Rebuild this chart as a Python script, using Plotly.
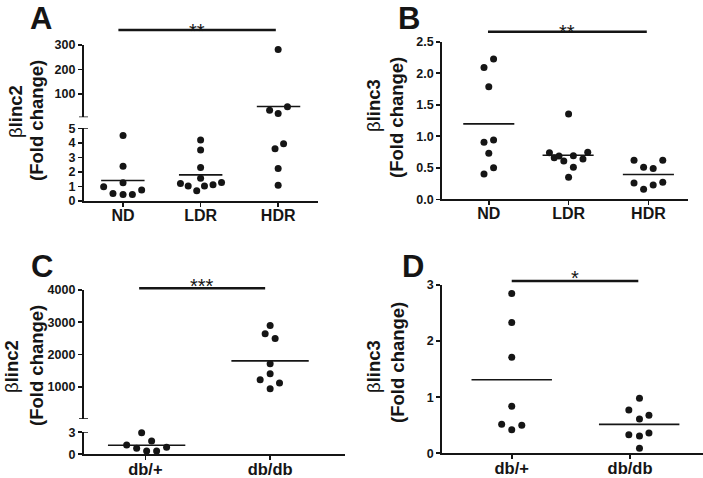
import numpy as np
import plotly.graph_objects as go

W, H = 703, 478

# ---------------- data ----------------
# Panel A: beta-linc2, islets ND / LDR / HDR (broken axis)
a_categories = ["ND", "LDR", "HDR"]
a_nd = [4.5, 2.39, 1.25, 0.98, 0.52, 0.45, 0.45, 0.75]
a_ldr = [4.2, 3.5, 2.3, 1.57, 1.21, 1.03, 0.71, 1.03, 1.12, 1.28]
a_hdr = [282, 48, 34, 20, 3.93, 3.6, 2.23, 1.09]
a_nd_jitter = [0, 0, 0, -0.25, -0.13, 0, 0.12, 0.24]
a_ldr_jitter = [0, 0, 0, 0, -0.26, -0.16, -0.05, 0.05, 0.16, 0.27]
a_hdr_jitter = [0, 0.12, -0.11, 0, 0.07, -0.04, 0, 0]
a_lower_ticks = [0, 1, 2, 3, 4, 5]
a_upper_ticks = [100, 200, 300]

# Panel B: beta-linc3
b_categories = ["ND", "LDR", "HDR"]
b_nd = [2.225, 2.09, 1.787, 0.94, 0.904, 0.73, 0.50, 0.40]
b_ldr = [1.352, 0.74, 0.66, 0.687, 0.607, 0.69, 0.64, 0.745, 0.51, 0.35]
b_hdr = [0.62, 0.507, 0.49, 0.62, 0.26, 0.16, 0.227, 0.27]
b_nd_jitter = [0.06, -0.06, 0, 0.06, -0.06, 0, 0.06, -0.06]
b_ldr_jitter = [0, -0.24, -0.18, -0.12, -0.06, 0.06, 0.18, 0.24, 0.06, 0]
b_hdr_jitter = [-0.18, -0.06, 0.06, 0.18, -0.18, -0.06, 0.06, 0.18]
b_ticks = [0, 0.5, 1.0, 1.5, 2.0, 2.5]

# Panel C: beta-linc2, db/+ vs db/db (broken axis)
c_categories = ["db/+", "db/db"]
c_het = [2.95, 1.81, 1.27, 0.82, 0.45, 0.45, 0.95]
c_dbdb = [2900, 2640, 2494, 1716, 1404, 1218, 1114, 938]
c_het_jitter = [-0.03, 0.05, -0.15, -0.07, 0.01, 0.09, 0.17]
c_dbdb_jitter = [0, -0.04, 0.04, 0, 0, -0.08, 0.075, 0]
c_lower_ticks = [0, 3]
c_upper_ticks = [1000, 2000, 3000, 4000]

# Panel D: beta-linc3, db/+ vs db/db
d_categories = ["db/+", "db/db"]
d_het = [2.85, 2.33, 1.71, 0.84, 0.52, 0.42, 0.50]
d_dbdb = [0.98, 0.77, 0.68, 0.61, 0.33, 0.31, 0.36, 0.09]
d_het_jitter = [0, 0, 0, 0, -0.085, 0, 0.085]
d_dbdb_jitter = [0.08, -0.01, 0.16, 0.08, -0.01, 0.08, 0.16, 0.08]
d_ticks = [0, 1, 2, 3]

INK = "#151515"
FONT = "Liberation Sans"


def px_x(p):
    return p / W


def px_y(p):
    return 1 - p / H


fig = go.Figure()


def add_group(cat, values, jitter, half, xa, ya_low, ya_up=None, split=None):
    v = np.asarray(values, dtype=float)
    xs = cat + np.asarray(jitter, dtype=float)
    if ya_up is None:
        groups = [(np.ones(len(v), bool), ya_low)]
    else:
        groups = [(v <= split, ya_low), (v > split, ya_up)]
    for mask, ya in groups:
        if mask.any():
            fig.add_trace(go.Scatter(
                x=xs[mask], y=v[mask], mode="markers", xaxis=xa, yaxis=ya,
                marker=dict(size=7, color=INK), cliponaxis=False,
                hoverinfo="skip", showlegend=False))
    m = v.mean()
    ya = ya_low if (ya_up is None or m <= split) else ya_up
    c = cat + float(np.mean(jitter))
    fig.add_trace(go.Scatter(
        x=[c - half, c + half], y=[m, m], mode="lines", xaxis=xa, yaxis=ya,
        line=dict(color=INK, width=1.6), hoverinfo="skip", showlegend=False))


# Panel A
for i, (vals, jit) in enumerate([(a_nd, a_nd_jitter), (a_ldr, a_ldr_jitter), (a_hdr, a_hdr_jitter)]):
    add_group(i, vals, jit, 0.28, "x", "y", "y2", split=5)
# Panel B
for i, (vals, jit) in enumerate([(b_nd, b_nd_jitter), (b_ldr, b_ldr_jitter), (b_hdr, b_hdr_jitter)]):
    add_group(i, vals, jit, 0.32, "x2", "y3")
# Panel C
for i, (vals, jit) in enumerate([(c_het, c_het_jitter), (c_dbdb, c_dbdb_jitter)]):
    add_group(i, vals, jit, 0.31, "x3", "y4", "y5", split=3)
# Panel D
for i, (vals, jit) in enumerate([(d_het, d_het_jitter), (d_dbdb, d_dbdb_jitter)]):
    add_group(i, vals, jit, 0.34, "x4", "y6")

base = dict(showline=True, linecolor=INK, linewidth=1.6, ticks="outside",
            ticklen=4, tickwidth=1.6, tickcolor=INK, showgrid=False,
            zeroline=False, fixedrange=True, automargin=False)
xbase = dict(base, ticklabelstandoff=-5)
ytf = dict(family=FONT, size=12.5, color=INK, weight="bold")
xtf = dict(family=FONT, size=16, color=INK, weight="bold")
xtf2 = dict(family=FONT, size=16.5, color=INK, weight="bold")

# geometry (pixels)
A_L, A_R, A_B, A_LT, A_UB, A_T = 83.5, 317.7, 201, 128.3, 117.3, 45
B_L, B_R, B_B, B_T = 441.7, 688.3, 199.3, 41.7
C_L, C_R, C_B, C_LT, C_UB, C_T = 83.5, 345, 454.3, 432.3, 419, 290
D_L, D_R, D_B, D_T = 441.7, 703, 453.3, 285

fig.update_layout(
    template="none",
    width=W, height=H, margin=dict(l=0, r=0, t=0, b=0, autoexpand=False),
    paper_bgcolor="white", plot_bgcolor="white", showlegend=False,
    xaxis=dict(xbase, domain=[px_x(A_L), px_x(A_R)], range=[-0.51, 2.51], anchor="y",
               tickvals=list(range(len(a_categories))), ticktext=a_categories, tickfont=xtf),
    yaxis=dict(base, domain=[px_y(A_B), px_y(A_LT)], range=[0, 5], anchor="x",
               tickvals=a_lower_ticks, tickfont=ytf),
    yaxis2=dict(base, domain=[px_y(A_UB), px_y(A_T)], range=[5, 300], anchor="x",
                tickvals=a_upper_ticks, tickfont=ytf),
    xaxis2=dict(xbase, domain=[px_x(B_L), px_x(B_R)], range=[-0.59, 2.5], anchor="y3",
                tickvals=list(range(len(b_categories))), ticktext=b_categories, tickfont=xtf),
    yaxis3=dict(base, domain=[px_y(B_B), px_y(B_T)], range=[0, 2.5], anchor="x2",
                tickvals=b_ticks, tickformat=".1f", tickfont=ytf),
    xaxis3=dict(xbase, domain=[px_x(C_L), px_x(C_R)], range=[-0.496, 1.6], anchor="y4",
                tickvals=list(range(len(c_categories))), ticktext=c_categories, tickfont=xtf2),
    yaxis4=dict(base, domain=[px_y(C_B), px_y(C_LT)], range=[0, 3], anchor="x3",
                tickvals=c_lower_ticks, tickfont=ytf),
    yaxis5=dict(base, domain=[px_y(C_UB), px_y(C_T)], range=[0, 4000], anchor="x3",
                tickvals=c_upper_ticks, tickfont=ytf),
    xaxis4=dict(xbase, domain=[px_x(D_L), px_x(D_R)], range=[-0.592, 1.617], anchor="y6",
                tickvals=list(range(len(d_categories))), ticktext=d_categories, tickfont=xtf2),
    yaxis6=dict(base, domain=[px_y(D_B), px_y(D_T)], range=[0, 3], anchor="x4",
                tickvals=d_ticks, tickfont=ytf),
)

# axis-break caps
for ax_px, yref, val in [(A_L, "y2", 5), (A_L, "y", 5), (C_L, "y5", 0), (C_L, "y4", 3)]:
    fig.add_shape(type="line", xref="paper", yref=yref,
                  x0=px_x(ax_px - 4.5), x1=px_x(ax_px + 4.5), y0=val, y1=val,
                  line=dict(color=INK, width=1.6))

# significance bars
sig = [("x", 0, 2, -0.06, -0.03, 30, "**", 27),
       ("x2", 0, 2, -0.01, -0.02, 31.7, "**", 28),
       ("x3", 0, 1, -0.05, -0.04, 288.3, "***", 282),
       ("x4", 0, 1, 0.0, 0.07, 281, "*", 274)]
for xa, c0, c1, o0, o1, ypx, stars, sy in sig:
    fig.add_shape(type="line", xref=xa, yref="paper", x0=c0 + o0, x1=c1 + o1,
                  y0=px_y(ypx), y1=px_y(ypx), line=dict(color=INK, width=2.6))
    fig.add_annotation(xref=xa, yref="paper", x=(c0 + o0 + c1 + o1) / 2, y=px_y(sy + 4),
                       text=stars, showarrow=False, xanchor="center", yanchor="middle",
                       font=dict(family=FONT, size=20, color=INK))

# panel letters (top-anchored so the text box stays inside the page)
for letter, lx, ly in [("A", 41, 0), ("B", 409, 0), ("C", 42, 248), ("D", 413, 248)]:
    fig.add_annotation(xref="paper", yref="paper", x=px_x(lx), y=px_y(ly), text=letter,
                       showarrow=False, xanchor="center", yanchor="top", borderpad=0,
                       font=dict(family=FONT, size=31, color=INK, weight="bold"))

# y titles
titles = [("β<b>linc2</b>", 16, 112, 37, 121),
          ("β<b>linc3</b>", 374, 106, 396, 118),
          ("β<b>linc2</b>", 11, 367, 36, 366),
          ("β<b>linc3</b>", 373, 367, 397, 363)]
for t, bx, by, fx, fy in titles:
    fig.add_annotation(xref="paper", yref="paper", x=px_x(bx), y=px_y(by), text=t,
                       textangle=-90, showarrow=False, xanchor="center", yanchor="middle",
                       font=dict(family=FONT, size=18.5, color=INK))
    fig.add_annotation(xref="paper", yref="paper", x=px_x(fx), y=px_y(fy),
                       text="<b>(Fold change)</b>", textangle=-90, showarrow=False,
                       xanchor="center", yanchor="middle",
                       font=dict(family=FONT, size=18.5, color=INK))

fig.write_html(
    "out.html",
    config={"displayModeBar": False, "staticPlot": True},
    post_script="document.body.style.margin='0px';document.body.style.overflow='hidden';",
)
